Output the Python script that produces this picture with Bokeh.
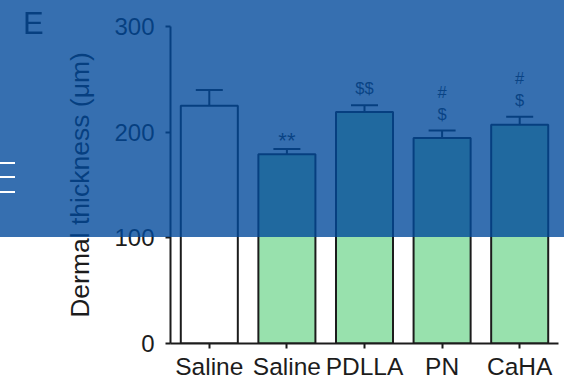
from bokeh.plotting import figure
from bokeh.models import (ColumnDataSource, Whisker, TeeHead, FixedTicker,
                          Div, InlineStyleSheet)
from bokeh.layouts import column
from bokeh.embed import file_html
from bokeh.resources import INLINE
from bokeh.core.properties import value

# ---- data ----
factors = ["Saline", "Saline\u200b", "PDLLA", "PN", "CaHA"]
means = [225, 179, 219, 194.5, 207]
errors = [15, 5, 6.5, 7, 7.5]
fills = ["#ffffff", "#98e1ad", "#98e1ad", "#98e1ad", "#98e1ad"]
ann_first = ["", "**", "$$", "$", "$"]
ann_second = ["", "", "", "#", "#"]
y_ticks = [0, 100, 200, 300]
y_label = "Dermal thickness (\u03bcm)"
panel_letter = "E"

upper = [m + e for m, e in zip(means, errors)]
src = ColumnDataSource(dict(x=factors, top=means, upper=upper, lower=means,
                            fill=fills))
star_idx = [i for i, t in enumerate(ann_first) if t.startswith("*")]
sym_idx = [i for i, t in enumerate(ann_first) if t and not t.startswith("*")]
src_star = ColumnDataSource(dict(x=[factors[i] for i in star_idx],
                                 y=[upper[i] for i in star_idx],
                                 t=[ann_first[i] for i in star_idx]))
src_sym = ColumnDataSource(dict(x=[factors[i] for i in sym_idx],
                                y=[upper[i] for i in sym_idx],
                                t=[ann_first[i] for i in sym_idx],
                                t2=[ann_second[i] for i in sym_idx]))

FONT = "Liberation Sans"
INK = "#1c1c1c"

p = figure(x_range=factors, y_range=(0, 300), width=564, height=383,
           output_backend="svg", toolbar_location=None,
           min_border_left=170, min_border_right=6, min_border_top=26,
           min_border_bottom=40)
p.x_range.range_padding = 0
p.outline_line_color = None
p.grid.visible = False
p.background_fill_color = "white"
p.border_fill_color = "white"

p.vbar(x="x", top="top", width=0.735, source=src, fill_color="fill",
       line_color=INK, line_width=2)

w = Whisker(base="x", upper="upper", lower="lower", source=src,
            line_color=INK, line_width=2,
            upper_head=TeeHead(size=27, line_color=INK, line_width=2),
            lower_head=None)
p.add_layout(w)

p.text(x="x", y="y", text="t", source=src_star, text_font=value(FONT),
       text_font_size="22px", text_color="#333333", text_align="center",
       text_baseline="middle", y_offset=-9)
p.text(x="x", y="y", text="t", source=src_sym, text_font=value(FONT),
       text_font_size="16.5px", text_color="#333333", text_align="center",
       text_baseline="middle", y_offset=-17)
p.text(x="x", y="y", text="t2", source=src_sym, text_font=value(FONT),
       text_font_size="16.5px", text_color="#333333", text_align="center",
       text_baseline="middle", y_offset=-39)

for ax in (p.xaxis[0], p.yaxis[0]):
    ax.axis_line_color = INK
    ax.axis_line_width = 2
    ax.major_tick_line_color = INK
    ax.major_tick_line_width = 2
    ax.major_tick_out = 5
    ax.major_tick_in = 0
    ax.minor_tick_line_color = None
    ax.major_label_text_font = FONT
    ax.major_label_text_color = INK

p.xaxis.major_label_text_font_size = "24.5px"
p.xaxis.major_label_standoff = 4

p.yaxis.ticker = FixedTicker(ticks=y_ticks)
p.yaxis.major_label_text_font_size = "24px"
p.yaxis.major_label_standoff = 11
p.yaxis.axis_label = y_label
p.yaxis.axis_label_text_font = FONT
p.yaxis.axis_label_text_font_style = "normal"
p.yaxis.axis_label_text_font_size = "26.5px"
p.yaxis.axis_label_text_color = INK
p.yaxis.axis_label_standoff = 16

# panel letter (real text, placed in page pixels, beneath the overlay)
letter_css = (":host{position:fixed !important;left:23px !important;"
              "top:8px !important;margin:0 !important;padding:0 !important;"
              "z-index:500 !important;}")
letter = Div(text='<span style="font-family:\'Liberation Sans\';font-size:31px;'
                  'line-height:31px;color:%s;">%s</span>' % (INK, panel_letter),
             width=34, height=34, stylesheets=[InlineStyleSheet(css=letter_css)])

lines_html = "".join(
    '<div style="position:absolute;left:0px;top:%dpx;width:15px;height:2px;'
    'background:#ffffff"></div>' % t for t in (162, 176, 191))
css = (":host{position:fixed !important;left:0px !important;top:0px !important;"
       "width:564px !important;height:237px !important;"
       "background:rgba(0,72,155,0.79) !important;z-index:1000 !important;"
       "pointer-events:none;margin:0 !important;padding:0 !important;}")
overlay = Div(text=lines_html, width=564, height=237,
              stylesheets=[InlineStyleSheet(css=css)])

layout = column(p, letter, overlay)
open("out.html", "w").write(file_html(layout, INLINE))
